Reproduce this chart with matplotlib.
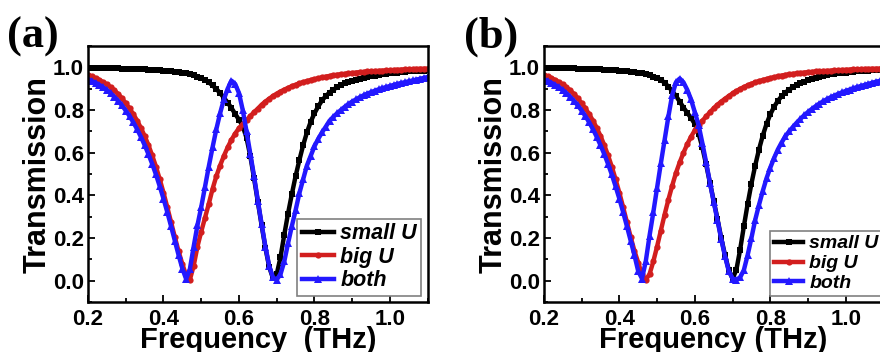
import numpy as np
import matplotlib
matplotlib.use('Agg')
import matplotlib.pyplot as plt
from matplotlib.ticker import MultipleLocator

# --- Dados (transmissão vs frequência, THz) ---
freq = [0.20, 0.21, 0.22, 0.23, 0.24, 0.25, 0.26, 0.27, 0.28, 0.29,
        0.30, 0.31, 0.32, 0.33, 0.34, 0.35, 0.36, 0.37, 0.38, 0.39,
        0.40, 0.41, 0.42, 0.43, 0.44, 0.45, 0.46, 0.47, 0.48, 0.49,
        0.50, 0.51, 0.52, 0.53, 0.54, 0.55, 0.56, 0.57, 0.58, 0.59,
        0.60, 0.61, 0.62, 0.63, 0.64, 0.65, 0.66, 0.67, 0.68, 0.69,
        0.70, 0.71, 0.72, 0.73, 0.74, 0.75, 0.76, 0.77, 0.78, 0.79,
        0.80, 0.81, 0.82, 0.83, 0.84, 0.85, 0.86, 0.87, 0.88, 0.89,
        0.90, 0.91, 0.92, 0.93, 0.94, 0.95, 0.96, 0.97, 0.98, 0.99,
        1.00, 1.01, 1.02, 1.03, 1.04, 1.05, 1.06, 1.07, 1.08, 1.09,
        1.10]

# painel (a)
small_u_a = [.998, .998, .998, .998, .997, .997, .997, .996, .996, .995,
             .995, .994, .994, .993, .992, .991, .990, .989, .988, .986,
             .985, .983, .981, .979, .977, .975, .972, .968, .963, .957,
             .950, .941, .930, .916, .899, .880, .858, .835, .810, .782,
             .755, .725, .670, .585, .480, .370, .260, .155, .065, .012,
             .030, .110, .215, .315, .405, .490, .565, .635, .695, .745,
             .785, .817, .845, .866, .882, .896, .907, .917, .925, .932,
             .938, .943, .948, .952, .956, .959, .962, .965, .968, .970,
             .972, .974, .976, .978, .979, .981, .982, .983, .984, .985,
             .986]
big_u_a = [.965, .958, .950, .941, .931, .920, .907, .892, .875, .855,
           .832, .808, .781, .751, .717, .679, .636, .588, .535, .476,
           .413, .345, .275, .205, .138, .078, .025, .005, .070, .160,
           .230, .295, .360, .430, .490, .540, .585, .625, .660, .690,
           .715, .735, .752, .772, .790, .807, .825, .840, .853, .866,
           .877, .887, .896, .904, .912, .919, .925, .931, .936, .941,
           .945, .949, .953, .957, .960, .963, .966, .968, .970, .972,
           .974, .976, .978, .979, .981, .982, .983, .984, .985, .986,
           .987, .988, .989, .990, .991, .992, .992, .993, .994, .994,
           .995]
both_a = [.945, .937, .928, .918, .907, .894, .879, .862, .843, .822,
          .798, .772, .743, .711, .675, .636, .594, .548, .498, .443,
          .385, .322, .256, .188, .120, .057, .008, .055, .160, .260,
          .345, .440, .535, .625, .710, .785, .850, .900, .938, .922,
          .880, .800, .700, .595, .490, .375, .265, .160, .070, .015,
          .005, .030, .090, .175, .255, .330, .410, .475, .540, .585,
          .630, .665, .695, .722, .750, .768, .785, .800, .815, .828,
          .840, .850, .860, .869, .877, .884, .891, .897, .903, .908,
          .913, .918, .923, .927, .931, .935, .939, .943, .947, .951,
          .955]

# painel (b)
small_u_b = [.998, .998, .998, .998, .997, .997, .997, .996, .996, .995,
             .995, .994, .994, .993, .992, .991, .990, .989, .988, .986,
             .985, .983, .981, .979, .977, .975, .972, .968, .963, .957,
             .952, .942, .928, .910, .890, .866, .840, .812, .787, .763,
             .735, .690, .625, .545, .460, .375, .290, .200, .120, .050,
             .010, .050, .145, .255, .360, .455, .540, .615, .680, .735,
             .780, .815, .843, .865, .882, .896, .907, .917, .926, .934,
             .941, .947, .952, .957, .961, .964, .967, .970, .972, .974,
             .976, .978, .980, .981, .983, .984, .985, .986, .987, .988,
             .989]
big_u_b = [.965, .958, .950, .941, .931, .920, .907, .892, .875, .855,
           .832, .808, .781, .751, .717, .679, .636, .588, .535, .476,
           .413, .345, .275, .205, .140, .085, .030, .005, .030, .090,
           .160, .235, .310, .380, .445, .505, .555, .600, .640, .675,
           .705, .730, .750, .770, .790, .808, .825, .840, .853, .866,
           .878, .889, .899, .908, .916, .923, .930, .936, .941, .946,
           .950, .954, .958, .962, .965, .968, .970, .972, .974, .976,
           .978, .979, .981, .982, .983, .984, .985, .986, .987, .988,
           .989, .990, .991, .991, .992, .993, .993, .994, .994, .995,
           .995]
both_b = [.945, .937, .928, .918, .907, .894, .879, .862, .843, .822,
          .798, .772, .743, .711, .675, .636, .594, .548, .498, .443,
          .385, .322, .256, .188, .120, .045, .010, .090, .210, .320,
          .435, .550, .660, .770, .870, .930, .948, .930, .895, .850,
          .790, .730, .645, .555, .460, .370, .285, .195, .115, .045,
          .010, .005, .015, .050, .120, .200, .285, .355, .420, .480,
          .530, .575, .615, .648, .677, .700, .721, .741, .759, .776,
          .791, .805, .818, .830, .841, .851, .860, .868, .876, .883,
          .890, .896, .902, .908, .913, .918, .923, .928, .933, .937,
          .941]

series_labels = ['small U', 'big U', 'both']
cores = ['#000000', '#D21E1E', '#2318FF']
marcadores = ['s', 'o', '^']

plt.rcParams['font.family'] = ['Liberation Sans', 'DejaVu Sans']
plt.rcParams['font.weight'] = 'bold'

fig = plt.figure(figsize=(8.8, 3.52), dpi=100)


def desenha_painel(ax, curvas, xlabel, letra, xletra, leg_x, leg_size):
    for y, lab, c, m, ms in zip(curvas, series_labels, cores, marcadores, [4.0, 4.5, 5.5]):
        ax.plot(freq, y, color=c, lw=3.2, marker=m, ms=ms, mew=0, label=lab)
    ax.set_xlim(0.2, 1.1)
    ax.set_ylim(-0.1, 1.1)
    ax.xaxis.set_major_locator(MultipleLocator(0.2))
    ax.xaxis.set_minor_locator(MultipleLocator(0.1))
    ax.yaxis.set_major_locator(MultipleLocator(0.2))
    ax.yaxis.set_minor_locator(MultipleLocator(0.1))
    ax.tick_params(which='both', direction='in', width=1.3, labelsize=16)
    ax.tick_params(axis='y', pad=3)
    ax.tick_params(axis='x', pad=5)
    ax.tick_params(which='major', length=5)
    ax.tick_params(which='minor', length=3)
    for lbl in ax.get_xticklabels() + ax.get_yticklabels():
        lbl.set_fontweight('bold')
    ax.xaxis.set_major_formatter(matplotlib.ticker.FormatStrFormatter('%.1f'))
    ax.yaxis.set_major_formatter(matplotlib.ticker.FormatStrFormatter('%.1f'))
    for sp in ax.spines.values():
        sp.set_linewidth(1.8)
    ax.set_xlabel(xlabel, fontsize=21, fontweight='bold', labelpad=-3)
    ax.set_ylabel('Transmission', fontsize=22, fontweight='bold')
    ax.yaxis.set_label_coords(-0.105, 0.5)
    leg = ax.legend(loc='lower right', bbox_to_anchor=(leg_x, 0.0), fancybox=False,
                    framealpha=1, edgecolor='#808080', handlelength=1.5,
                    handletextpad=0.3, labelspacing=0.12, borderpad=0.2,
                    borderaxespad=0.3, prop={'size': leg_size, 'weight': 'bold', 'style': 'italic'})
    leg.get_frame().set_linewidth(1.2)
    fig.text(xletra, 0.895, letra, fontsize=32, fontweight='bold',
             family=['Liberation Serif', 'DejaVu Serif'], va='center')


ax1 = fig.add_axes([0.1, 0.142, 0.386, 0.727])
desenha_painel(ax1, [small_u_a, big_u_a, both_a], 'Frequency  (THz)', '(a)', 0.008, 1.0, 15.5)

ax2 = fig.add_axes([0.618, 0.142, 0.386, 0.727])
desenha_painel(ax2, [small_u_b, big_u_b, both_b], 'Frequency (THz)', '(b)', 0.527, 1.014, 14)

fig.savefig('out.png', dpi=100)
